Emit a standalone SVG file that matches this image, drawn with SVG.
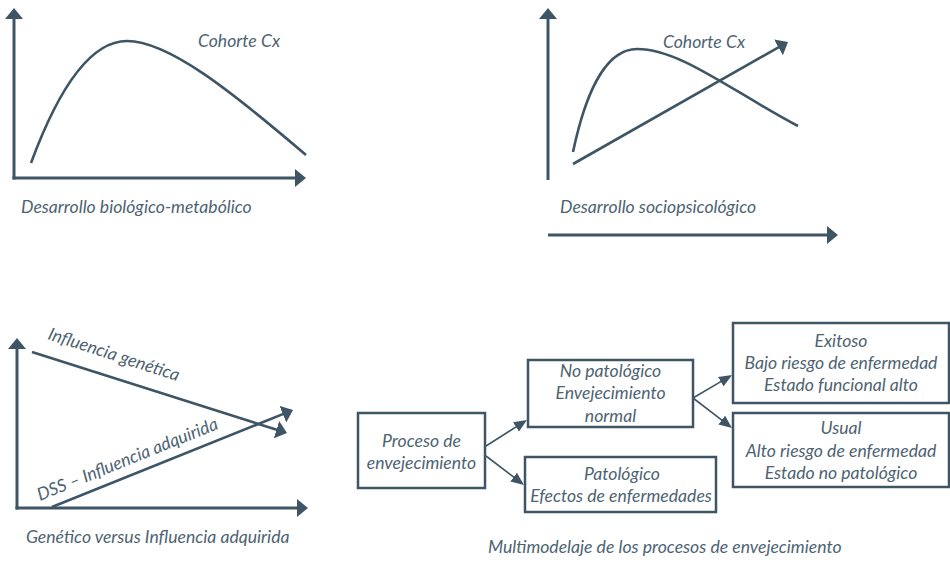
<svg xmlns="http://www.w3.org/2000/svg" width="950" height="563" viewBox="0 0 950 563">
<style>
.ax{stroke:#3e5565;stroke-width:3;fill:none}
.cv{stroke:#3e5565;stroke-width:2.6;fill:none}
.sm{stroke:#3e5565;stroke-width:1.6;fill:none}
.bx{stroke:#3e5565;stroke-width:2.5;fill:#fff}
text{font-family:Lato,"Open Sans","Liberation Sans",sans-serif;font-style:italic;font-size:17.6px;fill:#4d6372}
.c{text-anchor:middle}
</style>
<defs>
<marker id="big" markerUnits="userSpaceOnUse" markerWidth="12" markerHeight="18" viewBox="0 0 12 18" refX="2" refY="9" orient="auto"><path d="M0,0 L11,9 L0,18 z" fill="#3e5565"/></marker>
<marker id="small" markerUnits="userSpaceOnUse" markerWidth="14" markerHeight="11" viewBox="0 0 14 11" refX="3" refY="5.5" orient="auto"><path d="M0,0 L13,5.5 L0,11 z" fill="#3e5565"/></marker>
</defs>
<rect width="950" height="563" fill="#fff"/>

<g id="panel1">
<line class="ax" x1="14" y1="179.5" x2="14" y2="17" marker-end="url(#big)"/>
<line class="ax" x1="12.5" y1="178" x2="297" y2="178" marker-end="url(#big)"/>
<path class="cv" d="M31,163 C58,90 90,41 127,41 C168,41 230,90 306,155"/>
<text x="198" y="47">Cohorte Cx</text>
<text x="21" y="213">Desarrollo biológico-metabólico</text>
</g>

<g id="panel2">
<line class="ax" x1="548" y1="180" x2="548" y2="17" marker-end="url(#big)"/>
<path class="cv" d="M573,152 C585,95 605,49 637,49 C680,49 730,90 798,126"/>
<line class="cv" x1="573" y1="164" x2="780.2" y2="46.4" marker-end="url(#big)"/>
<text x="663" y="48">Cohorte Cx</text>
<text x="560" y="213">Desarrollo sociopsicológico</text>
<line class="ax" x1="548" y1="235" x2="829" y2="235" marker-end="url(#big)"/>
</g>

<g id="panel3">
<line class="ax" x1="17" y1="509.5" x2="17" y2="347" marker-end="url(#big)"/>
<line class="ax" x1="15.5" y1="508" x2="299" y2="508" marker-end="url(#big)"/>
<line class="cv" x1="32" y1="352" x2="278.4" y2="430.3" marker-end="url(#big)"/>
<line class="cv" x1="52" y1="507" x2="284.7" y2="413.4" marker-end="url(#big)"/>
<text transform="translate(47,339) rotate(18)">Influencia genética</text>
<text transform="translate(40,501) rotate(-22)">DSS – Influencia adquirida</text>
<text x="26" y="543">Genético versus Influencia adquirida</text>
</g>

<g id="connectors">
<line class="sm" x1="486" y1="446" x2="518.5" y2="425.4" marker-end="url(#small)"/>
<line class="sm" x1="486" y1="456" x2="516" y2="478.9" marker-end="url(#small)"/>
<line class="sm" x1="693" y1="398" x2="723.4" y2="380.1" marker-end="url(#small)"/>
<line class="sm" x1="693" y1="398" x2="724.1" y2="421.9" marker-end="url(#small)"/>
</g>

<g id="proceso">
<rect class="bx" x="358" y="413" width="127" height="75"/>
<text class="c" x="421.5" y="447">Proceso de</text>
<text class="c" x="421.5" y="469">envejecimiento</text>
</g>
<g id="nopatologico">
<rect class="bx" x="528" y="360" width="165" height="67"/>
<text class="c" x="610.5" y="377">No patológico</text>
<text class="c" x="610.5" y="399">Envejecimiento</text>
<text class="c" x="610.5" y="422">normal</text>
</g>
<g id="patologico">
<rect class="bx" x="525" y="457" width="191" height="55"/>
<text class="c" x="622" y="480">Patológico</text>
<text class="c" x="621" y="502">Efectos de enfermedades</text>
</g>
<g id="exitoso">
<rect class="bx" x="733" y="323" width="216" height="80"/>
<text class="c" x="841" y="347">Exitoso</text>
<text class="c" x="841" y="369">Bajo riesgo de enfermedad</text>
<text class="c" x="841" y="391">Estado funcional alto</text>
</g>
<g id="usual">
<rect class="bx" x="733" y="413" width="216" height="74"/>
<text class="c" x="841" y="434">Usual</text>
<text class="c" x="841" y="457">Alto riesgo de enfermedad</text>
<text class="c" x="841" y="479">Estado no patológico</text>
</g>
<text x="488" y="553">Multimodelaje de los procesos de envejecimiento</text>
</svg>
